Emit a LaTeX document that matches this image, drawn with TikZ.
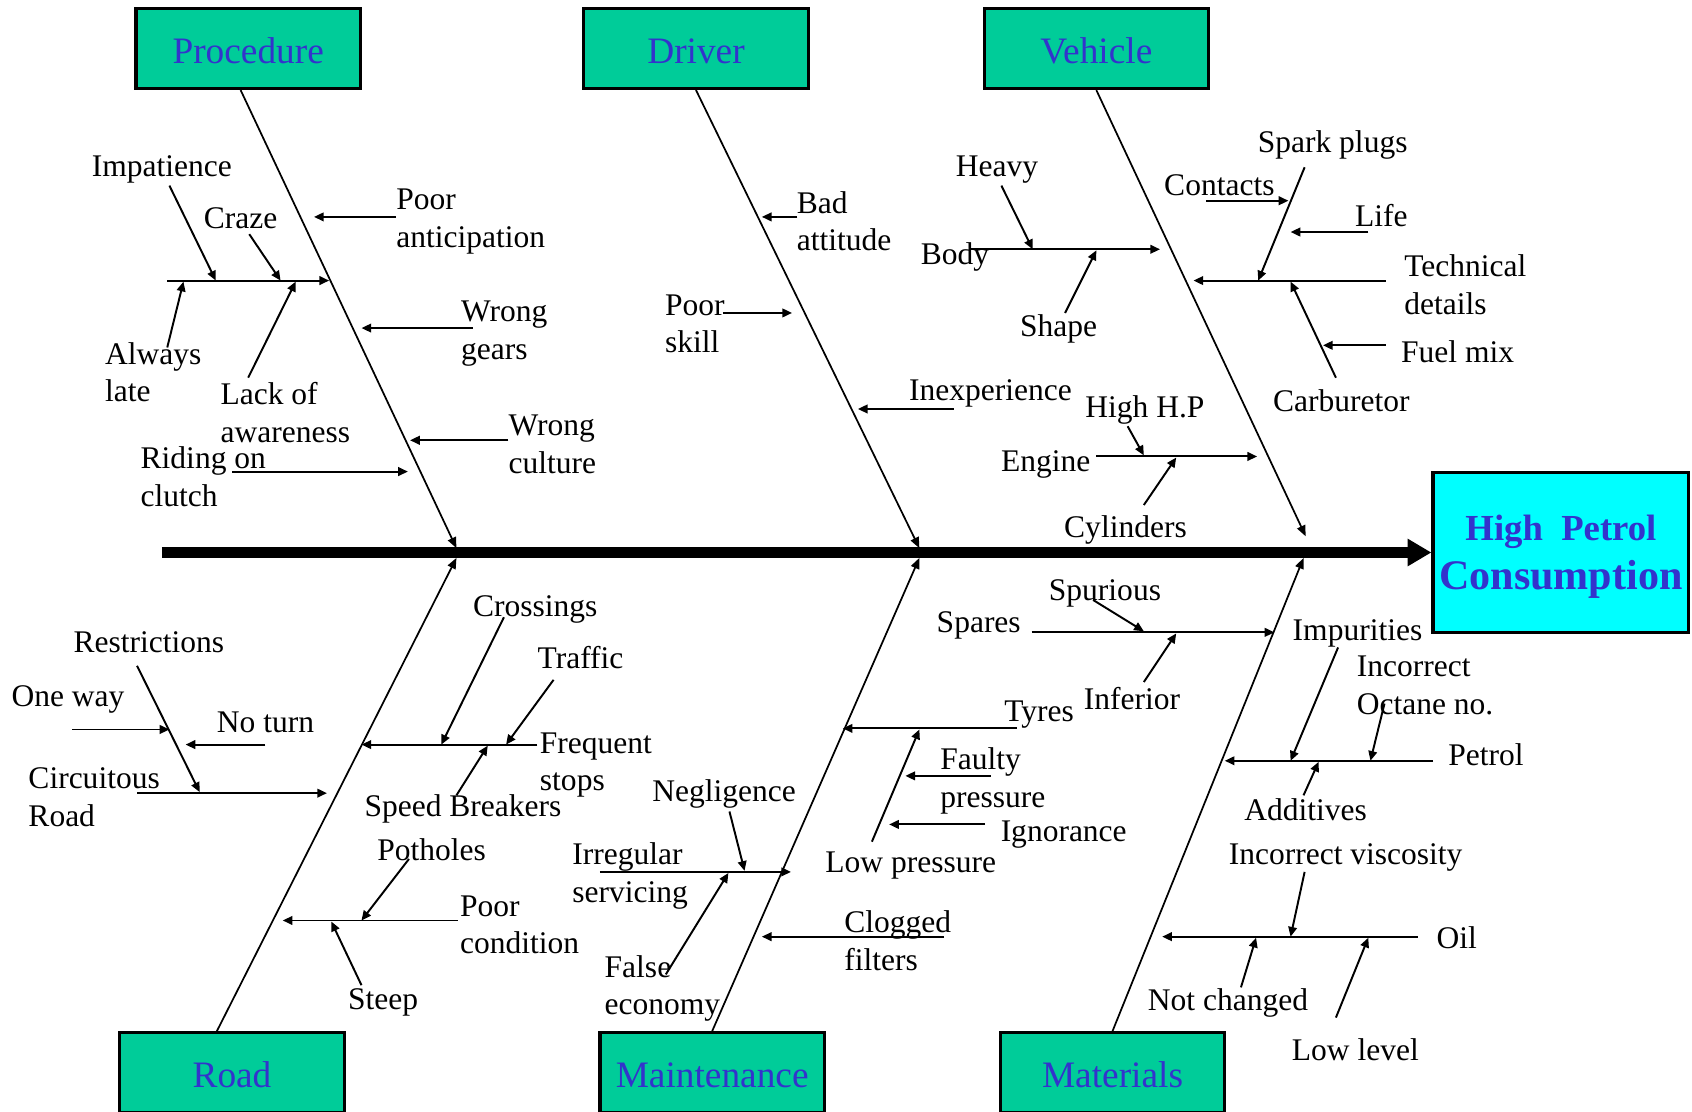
\documentclass[tikz,border=0pt]{standalone}
\usepackage{fontspec}
\setmainfont{Liberation Serif}
\usetikzlibrary{arrows.meta,positioning}
\definecolor{boxgreen}{RGB}{0,204,153}
\definecolor{titleblue}{RGB}{51,51,204}
\definecolor{effectcyan}{RGB}{0,255,255}

\begin{document}
\begin{tikzpicture}[
        x=0.5pt,y=-0.5pt,
        box/.style={draw,line width=1.5pt,fill=boxgreen,minimum width=104pt,minimum height=37pt,text height=14pt,text depth=0pt,text=titleblue,font=\fontsize{17.3}{20}\selectfont},
        effect/.style={draw,line width=1.5pt,fill=effectcyan,minimum width=118.5pt,minimum height=74pt},
        efftext/.style={inner sep=0pt,align=center,text=titleblue,font=\fontsize{19.5}{22.5}\selectfont\bfseries},
        lbl/.style={inner sep=0pt,yshift=-1pt,align=left,font=\fontsize{14.6}{17.5}\selectfont},
        arrow/.style={-{Triangle[length=4.5pt,width=4pt]},line width=0.9pt},
        bone/.style={-{Triangle[length=5pt,width=4pt]},line width=0.8pt}
    ]
        \useasboundingbox (0,0) rectangle (1568,1030);

        % Effect and spine
        \node[effect] (effect) at (1446.5,512) {};
        \node[efftext] (efflbl) at ([yshift=-2pt]effect.center) {{\fontsize{17}{20}\selectfont High\ \ Petrol}\\Consumption};
        \coordinate (tail) at (150,512);
        \draw[line width=5pt,-{Triangle[length=11pt,width=12pt]}] (tail) -- (effect.west);

        % Category boxes
        \node[box] (procedure) at (230,45) {Procedure};
        \node[box] (driver) at (645,45) {Driver};
        \node[box] (vehicle) at (1016,45) {Vehicle};
        \node[box] (road) at (215,994) {Road};
        \node[box] (maintenance) at (660,994) {Maintenance};
        \node[box] (materials) at (1031,994) {Materials};

        % Main bones
        \coordinate (sp1) at (423,508);
        \coordinate (sp2) at (852,508);
        \coordinate (sp3) at (1210,497);
        \coordinate (sp4) at (423,517);
        \coordinate (sp5) at (852,517);
        \coordinate (sp6) at (1208,517);
        \draw[bone] ([xshift=-3.5pt]procedure.south) -- (sp1);
        \draw[bone] (driver.south) -- (sp2);
        \draw[bone] (vehicle.south) -- (sp3);
        \draw[bone] ([xshift=-7pt]road.north) -- (sp4);
        \draw[bone] (maintenance.north) -- (sp5);
        \draw[bone] (materials.north) -- (sp6);

        % Procedure
        \node[lbl] (impatience) at (150,155) {Impatience};
        \node[lbl] (craze) at (223,200) {Craze};
        \node[lbl,anchor=west] (always) at (97,343) {Always\\late};
        \node[lbl,anchor=west] (lack) at (204,380) {Lack of\\awareness};
        \node[lbl,anchor=west] (poorant) at (367,203) {Poor\\anticipation};
        \node[lbl,anchor=west] (gears) at (427,307) {Wrong\\gears};
        \node[lbl,anchor=west] (culture) at (471,410) {Wrong\\culture};
        \node[lbl,anchor=west] (riding) at (130,440) {Riding on\\clutch};
        \coordinate (pr1) at (155,260);  \coordinate (pr2) at (305,260);
        \coordinate (im1) at (157,172);  \coordinate (im2) at (200,260);
        \coordinate (cr1) at (231,217);  \coordinate (cr2) at (260,260);
        \coordinate (al1) at (155,322);  \coordinate (al2) at (170,261);
        \coordinate (la1) at (230,350);  \coordinate (la2) at (274,261);
        \coordinate (pa1) at (367,201);  \coordinate (pa2) at (291,201);
        \coordinate (wg1) at (438,304);  \coordinate (wg2) at (335,304);
        \coordinate (wc1) at (471,408);  \coordinate (wc2) at (380,408);
        \coordinate (rc1) at (215,437);  \coordinate (rc2) at (378,437);

        % Driver
        \node[lbl,anchor=west] (bad) at (738,203) {Bad\\attitude};
        \node[lbl,anchor=west] (skill) at (616,298) {Poor\\skill};
        \node[lbl,anchor=west] (inexp) at (842,363) {Inexperience};
        \coordinate (ba1) at (739,201);  \coordinate (ba2) at (706,201);
        \coordinate (ps1) at (670,290);  \coordinate (ps2) at (734,290);
        \coordinate (ie1) at (884,379);  \coordinate (ie2) at (795,379);

        % Vehicle
        \node[lbl] (heavy) at (924,155) {Heavy};
        \node[lbl,anchor=west] (body) at (853,236) {Body};
        \node[lbl] (shape) at (981,303) {Shape};
        \node[lbl,anchor=west] (technical) at (1301,262) {Technical\\details};
        \node[lbl] (spark) at (1235,132) {Spark plugs};
        \node[lbl] (contacts) at (1130,170) {Contacts};
        \node[lbl] (life) at (1280,198) {Life};
        \node[lbl] (carb) at (1243,369) {Carburetor};
        \node[lbl,anchor=west] (fuel) at (1298,324) {Fuel mix};
        \node[lbl] (engine) at (969,428) {Engine};
        \node[lbl] (hp) at (1061,378) {High H.P};
        \node[lbl] (cyl) at (1043,489) {Cylinders};
        \coordinate (bo1) at (900,231);  \coordinate (bo2) at (1075,231);
        \coordinate (he1) at (928,172);  \coordinate (he2) at (957,231);
        \coordinate (sh1) at (987,290);  \coordinate (sh2) at (1016,232);
        \coordinate (td1) at (1284,260); \coordinate (td2) at (1106,260);
        \coordinate (sp7) at (1209,155); \coordinate (sp8) at (1166,260);
        \coordinate (co1) at (1118,186); \coordinate (co2) at (1194,186);
        \coordinate (li1) at (1268,215); \coordinate (li2) at (1196,215);
        \coordinate (ca1) at (1238,350); \coordinate (ca2) at (1196,261);
        \coordinate (fm1) at (1284,320); \coordinate (fm2) at (1226,320);
        \coordinate (en1) at (1016,423); \coordinate (en2) at (1165,423);
        \coordinate (hp1) at (1045,395); \coordinate (hp2) at (1060,422);
        \coordinate (cy1) at (1060,468); \coordinate (cy2) at (1090,424);

        % Road
        \node[lbl] (restrict) at (138,593) {Restrictions};
        \node[lbl] (oneway) at (63,646) {One way};
        \node[lbl] (noturn) at (246,667) {No turn};
        \node[lbl,anchor=west] (circuit) at (26,737) {Circuitous\\Road};
        \node[lbl,anchor=west] (frequent) at (500,707) {Frequent\\stops};
        \node[lbl] (crossings) at (496,563) {Crossings};
        \node[lbl] (traffic) at (538,607) {Traffic};
        \node[lbl] (breakers) at (429,748) {Speed Breakers};
        \node[lbl,anchor=west] (condition) at (426,855) {Poor\\condition};
        \node[lbl] (potholes) at (400,785) {Potholes};
        \node[lbl] (steep) at (355,927) {Steep};
        \coordinate (re1) at (127,617);  \coordinate (re2) at (185,734);
        \coordinate (ow1) at (67,676);   \coordinate (ow2) at (157,676);
        \coordinate (nt1) at (246,690);  \coordinate (nt2) at (172,690);
        \coordinate (cd1) at (127,735);  \coordinate (cd2) at (303,735);
        \coordinate (fs1) at (498,690);  \coordinate (fs2) at (335,690);
        \coordinate (cs1) at (467,572);  \coordinate (cs2) at (409,690);
        \coordinate (tr1) at (513,630);  \coordinate (tr2) at (469,690);
        \coordinate (sb1) at (423,737);  \coordinate (sb2) at (452,691);
        \coordinate (pc1) at (424,853);  \coordinate (pc2) at (262,853);
        \coordinate (ph1) at (379,796);  \coordinate (ph2) at (335,853);
        \coordinate (st1) at (335,913);  \coordinate (st2) at (307,854);

        % Maintenance
        \node[lbl,anchor=west] (irregular) at (530,810) {Irregular\\servicing};
        \node[lbl] (negligence) at (671,734) {Negligence};
        \node[lbl,anchor=west] (false) at (560,914) {False\\economy};
        \node[lbl,anchor=west] (clogged) at (782,870) {Clogged\\filters};
        \node[lbl] (tyres) at (963,660) {Tyres};
        \node[lbl] (lowpress) at (844,800) {Low pressure};
        \node[lbl,anchor=west] (faulty) at (871,722) {Faulty\\pressure};
        \node[lbl,anchor=west] (ignorance) at (927,771) {Ignorance};
        \node[lbl] (spares) at (907,578) {Spares};
        \node[lbl] (spurious) at (1024,548) {Spurious};
        \node[lbl] (inferior) at (1049,645) {Inferior};
        \coordinate (is1) at (556,808);  \coordinate (is2) at (733,808);
        \coordinate (ne1) at (676,752);  \coordinate (ne2) at (690,807);
        \coordinate (fe1) at (617,903);  \coordinate (fe2) at (675,809);
        \coordinate (cf1) at (875,868);  \coordinate (cf2) at (706,868);
        \coordinate (ty1) at (942,675);  \coordinate (ty2) at (781,675);
        \coordinate (lp1) at (808,780);  \coordinate (lp2) at (852,676);
        \coordinate (fp1) at (918,719);  \coordinate (fp2) at (839,719);
        \coordinate (ig1) at (913,764);  \coordinate (ig2) at (824,764);
        \coordinate (sa1) at (956,586);  \coordinate (sa2) at (1181,586);
        \coordinate (su1) at (1013,556); \coordinate (su2) at (1060,585);
        \coordinate (in1) at (1060,632); \coordinate (in2) at (1090,587);

        % Materials
        \node[lbl] (impurities) at (1258,585) {Impurities};
        \node[lbl] (petrol) at (1377,697) {Petrol};
        \node[lbl,anchor=west] (octane) at (1257,633) {Incorrect\\Octane no.};
        \node[lbl] (additives) at (1210,748) {Additives};
        \node[lbl] (oil) at (1350,867) {Oil};
        \node[lbl] (viscosity) at (1247,793) {Incorrect viscosity};
        \node[lbl] (notchanged) at (1138,927) {Not changed};
        \node[lbl] (lowlevel) at (1256,971) {Low level};
        \coordinate (pe1) at (1328,705); \coordinate (pe2) at (1135,705);
        \coordinate (ip1) at (1240,600); \coordinate (ip2) at (1196,705);
        \coordinate (oc1) at (1283,652); \coordinate (oc2) at (1270,705);
        \coordinate (ad1) at (1208,737); \coordinate (ad2) at (1222,706);
        \coordinate (oi1) at (1314,868); \coordinate (oi2) at (1077,868);
        \coordinate (iv1) at (1209,808); \coordinate (iv2) at (1196,868);
        \coordinate (nc1) at (1150,915); \coordinate (nc2) at (1164,869);
        \coordinate (ll1) at (1238,943); \coordinate (ll2) at (1268,869);

        % Arrows
        \foreach \a in {pr,im,cr,al,la,pa,wg,wc,rc,ba,ps,ie,bo,he,sh,td,co,li,ca,fm,en,hp,cy,
                        re,ow,nt,cd,fs,cs,tr,sb,pc,ph,st,is,ne,fe,cf,ty,lp,fp,ig,sa,su,in,
                        pe,ip,oc,ad,oi,iv,nc,ll}
            \draw[arrow] (\a1) -- (\a2);
        \draw[arrow] (sp7) -- (sp8);
    \end{tikzpicture}
\end{document}
